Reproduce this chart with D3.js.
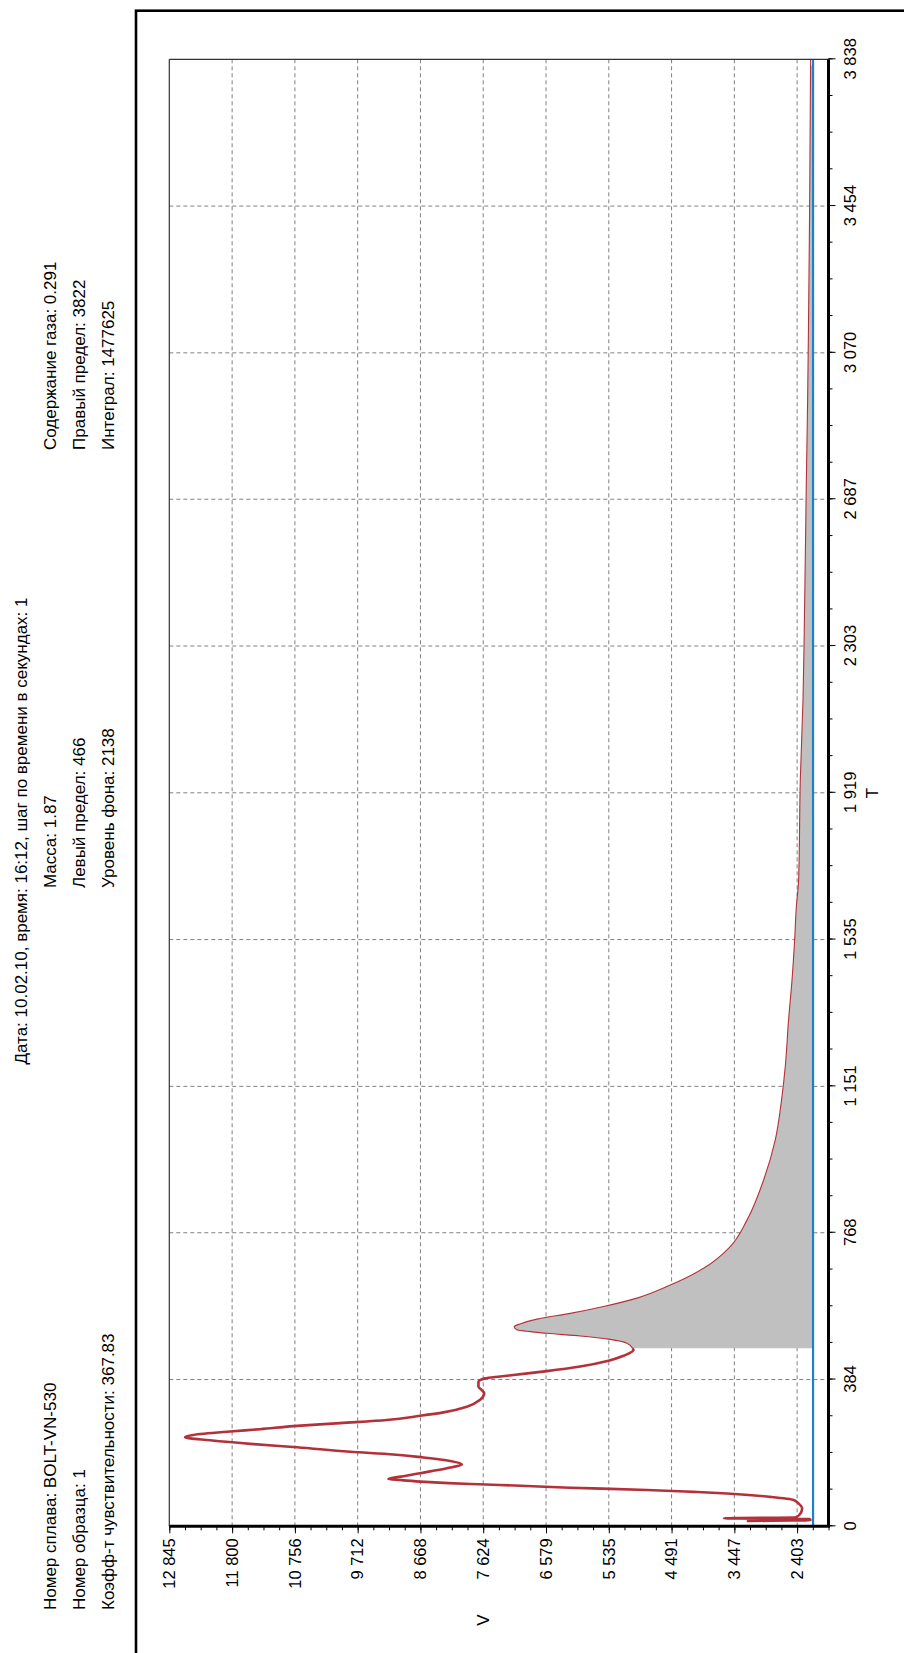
<!DOCTYPE html>
<html>
<head>
<meta charset="utf-8">
<script src="https://cdn.jsdelivr.net/npm/d3@7"></script>
<style>
  html, body { margin: 0; padding: 0; background: #fff; }
  svg { display: block; }
  text { font-family: "Liberation Sans", Arial, sans-serif; fill: #000; }
</style>
</head>
<body>
<svg id="chart" width="904" height="1653"></svg>
<script>
// Gas analysis record: signal V versus time T (s)
const timeSec = [14, 16, 19, 21, 23, 35, 47, 60, 69, 77, 86, 90, 95, 98, 101, 106, 110, 113, 117, 121, 124,
  131, 139, 152, 162, 171, 180, 188, 195, 207, 215, 225, 233, 239, 248, 254, 262, 270, 278, 289, 298,
  313, 331, 348, 358, 365, 378, 387, 392, 396, 406, 418, 433, 446, 461, 466, 479, 489, 498, 505, 514,
  522, 530, 542, 557, 575, 597, 631, 675, 732, 801, 906, 1011, 1124, 1203, 1325, 1429, 1534, 1621,
  1691, 1952, 2162, 2354, 2730, 2947, 3200, 3450, 3822, 3838];
const signal = [3240, 2180, 2200, 3620, 2430, 2340, 2320, 2380, 2460, 2850, 3570, 4125, 4900, 5510, 6180, 7000, 7700, 8200, 8673, 9000, 9201,
  8950, 8673, 8229, 7979, 8174, 8618, 9118, 9838, 10725, 11447, 12168, 12584, 12446, 11835, 11336, 10782, 10004, 9227, 8673, 8285,
  7896, 7675, 7608, 7660, 7703, 7703, 7592, 7342, 7121, 6565, 6011, 5540, 5290, 5124, 5140, 5234, 5512, 6011, 6565, 7064,
  7110, 7000, 6731, 6177, 5623, 5068, 4513, 3959, 3515, 3237, 2960, 2766, 2655, 2600, 2545, 2488, 2444, 2416,
  2378, 2350, 2305, 2283, 2250, 2228, 2210, 2195, 2179, 2178];

const timeTicks = [0, 384, 768, 1151, 1535, 1919, 2303, 2687, 3070, 3454, 3838];
const signalTicks = [12845, 11800, 10756, 9712, 8668, 7624, 6579, 5535, 4491, 3447, 2403];
const signalMin = 1881;

const leftLimit = 466;
const rightLimit = 3822;
const backgroundLevel = 2138;

const title = "Дата: 10.02.10, время: 16:12, шаг по времени в секундах: 1";
const headerLeft = ["Номер сплава: BOLT-VN-530", "Номер образца: 1", "Коэфф-т чувствительности: 367.83"];
const headerMiddle = ["Масса: 1.87", "Левый предел: 466", "Уровень фона: 2138"];
const headerRight = ["Содержание газа: 0.291", "Правый предел: 3822", "Интеграл: 1477625"];

// The report is laid out landscape (1653 x 904) and turned a quarter turn onto the page
const PAGE_H = 1653;
const svg = d3.select("#chart");
const root = svg.append("g").attr("transform", `translate(0,${PAGE_H}) rotate(-90)`);

const plot = { left: 126.7, right: 1593.7, top: 169.3, bottom: 828.5 };

const x = d3.scaleLinear().domain([timeTicks[0], timeTicks[timeTicks.length - 1]]).range([plot.left, plot.right]);
const y = d3.scaleLinear().domain([signalMin, signalTicks[0]]).range([plot.bottom, plot.top]);

const fmt = d => d3.format(",")(d).replace(/,/g, " ");

// Outer frame
root.append("rect")
  .attr("x", -20).attr("y", 136)
  .attr("width", 1642.3 + 20).attr("height", 800)
  .attr("fill", "none").attr("stroke", "#000").attr("stroke-width", 2.6);

// Header block
const hdr = root.append("g").style("font-size", "17px");
hdr.append("text").attr("x", 822).attr("y", 27).attr("text-anchor", "middle").text(title);
const rowsY = [55.5, 84.5, 113.5];
headerLeft.forEach((t, i) => hdr.append("text").attr("x", 43).attr("y", rowsY[i]).text(t));
headerMiddle.forEach((t, i) => hdr.append("text").attr("x", 765).attr("y", rowsY[i]).text(t));
headerRight.forEach((t, i) => hdr.append("text").attr("x", 1203).attr("y", rowsY[i]).text(t));

// Grid
const grid = root.append("g")
  .attr("stroke", "#808080").attr("stroke-width", 1).attr("stroke-dasharray", "4,3").attr("fill", "none");
grid.selectAll("line.vt").data(timeTicks.slice(1, -1)).join("line")
  .attr("x1", d => x(d)).attr("x2", d => x(d))
  .attr("y1", plot.top).attr("y2", plot.bottom);
grid.selectAll("line.hs").data(signalTicks.slice(1)).join("line")
  .attr("x1", plot.left).attr("x2", plot.right)
  .attr("y1", d => y(d)).attr("y2", d => y(d));

const points = timeSec.map((t, i) => ({ t, v: signal[i] }));

// Integrated area between the limits, above the background level
const area = d3.area()
  .x(d => x(d.t)).y0(y(backgroundLevel)).y1(d => y(d.v))
  .curve(d3.curveMonotoneX);
root.append("path")
  .datum(points.filter(d => d.t >= leftLimit && d.t <= rightLimit))
  .attr("d", area).attr("fill", "#c0c0c0").attr("stroke", "none");

// Signal curve
const line = d3.line().x(d => x(d.t)).y(d => y(d.v)).curve(d3.curveMonotoneX);
root.append("path")
  .datum(points.filter(d => d.t >= leftLimit))
  .attr("d", line).attr("fill", "none").attr("stroke", "#b3313b").attr("stroke-width", 1.1);
root.append("path")
  .datum(points.filter(d => d.t <= leftLimit))
  .attr("d", line).attr("fill", "none").attr("stroke", "#b3313b").attr("stroke-width", 2.6)
  .attr("stroke-linejoin", "round");

// Background level
root.append("line")
  .attr("x1", plot.left).attr("x2", plot.right)
  .attr("y1", y(backgroundLevel)).attr("y2", y(backgroundLevel))
  .attr("stroke", "#1b80d0").attr("stroke-width", 2.2);

// Plot frame: thin top/right edges, heavy axes
root.append("line").attr("x1", plot.left).attr("x2", plot.right).attr("y1", plot.top).attr("y2", plot.top)
  .attr("stroke", "#333").attr("stroke-width", 1.2);
root.append("line").attr("x1", plot.right).attr("x2", plot.right).attr("y1", plot.top).attr("y2", plot.bottom)
  .attr("stroke", "#333").attr("stroke-width", 1.2);

// Axes
const stepT = (timeTicks[timeTicks.length - 1] - timeTicks[0]) / 40;
const minorT = d3.range(0, 41).map(k => timeTicks[0] + k * stepT);
const stepV = (signalTicks[0] - signalTicks[signalTicks.length - 1]) / 40;
const minorV = d3.range(0, 43).map(k => signalTicks[0] - k * stepV).filter(v => v >= signalMin - 1);

function styleAxis(g) {
  g.select(".domain").remove();
  g.selectAll(".tick line").attr("stroke", "#000").attr("stroke-width", 1);
  g.selectAll(".tick text").style("font-size", "16.5px")
    .style("font-family", "\"Liberation Sans\", Arial, sans-serif").attr("fill", "#000");
}

root.append("g").attr("transform", `translate(0,${plot.bottom})`)
  .call(d3.axisBottom(x).tickValues(minorT).tickSize(4).tickFormat(""))
  .call(styleAxis);
root.append("g").attr("transform", `translate(0,${plot.bottom})`)
  .call(d3.axisBottom(x).tickValues(timeTicks).tickSize(7).tickPadding(9).tickFormat(fmt))
  .call(styleAxis);

root.append("g").attr("transform", `translate(${plot.left},0)`)
  .call(d3.axisLeft(y).tickValues(minorV).tickSize(4).tickFormat(""))
  .call(styleAxis);
root.append("g").attr("transform", `translate(${plot.left},0)`)
  .call(d3.axisLeft(y).tickValues(signalTicks).tickSize(7).tickPadding(5).tickFormat(fmt))
  .call(styleAxis);

root.append("line").attr("x1", plot.left).attr("x2", plot.right).attr("y1", plot.bottom).attr("y2", plot.bottom)
  .attr("stroke", "#000").attr("stroke-width", 3);
root.append("line").attr("x1", plot.left).attr("x2", plot.left).attr("y1", plot.top).attr("y2", plot.bottom + 1.5)
  .attr("stroke", "#000").attr("stroke-width", 3);

// Axis titles
root.append("text").attr("x", 860).attr("y", 878).attr("text-anchor", "middle")
  .style("font-size", "17px").text("T");
root.append("text").attr("x", 33).attr("y", 489).attr("text-anchor", "middle")
  .style("font-size", "17px").text("V");
</script>
</body>
</html>
